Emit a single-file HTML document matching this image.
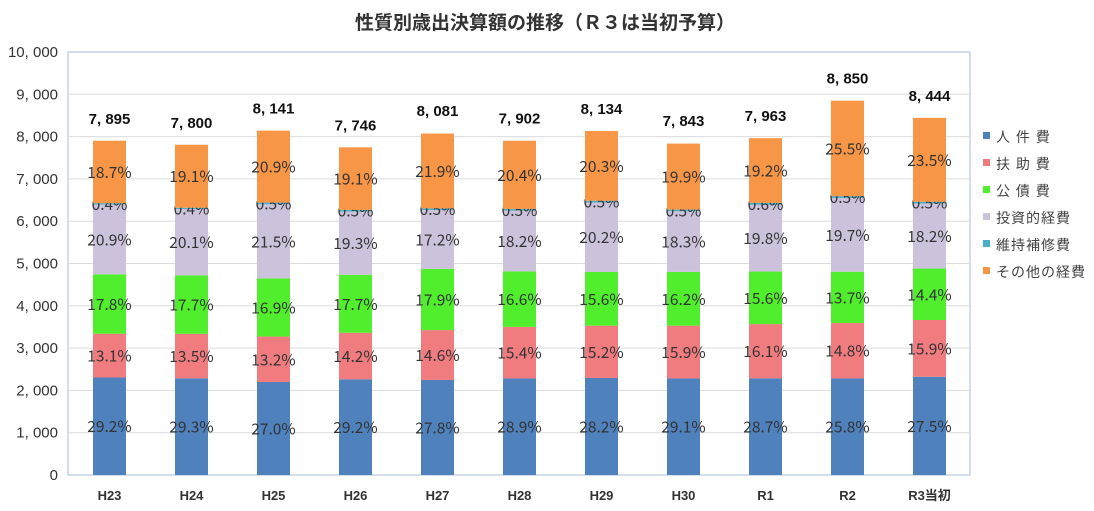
<!DOCTYPE html>
<html><head><meta charset="utf-8">
<style>
body{margin:0;background:#fff;}
svg{display:block;font-family:"Liberation Sans","Noto Sans CJK JP",sans-serif;}
</style></head><body>
<svg id="chart" width="1094" height="511"></svg>
<script>
const categories=["H23","H24","H25","H26","H27","H28","H29","H30","R1","R2","R3当初"];
const totals=[7895,7800,8141,7746,8081,7902,8134,7843,7963,8850,8444];
const personnel=[29.2,29.3,27.0,29.2,27.8,28.9,28.2,29.1,28.7,25.8,27.5];
const assistance=[13.1,13.5,13.2,14.2,14.6,15.4,15.2,15.9,16.1,14.8,15.9];
const debt=[17.8,17.7,16.9,17.7,17.9,16.6,15.6,16.2,15.6,13.7,14.4];
const investment=[20.9,20.1,21.5,19.3,17.2,18.2,20.2,18.3,19.8,19.7,18.2];
const maintenance=[0.4,0.4,0.5,0.5,0.5,0.5,0.5,0.5,0.6,0.5,0.5];
const other=[18.7,19.1,20.9,19.1,21.9,20.4,20.3,19.9,19.2,25.5,23.5];
const yTicks=[0,1000,2000,3000,4000,5000,6000,7000,8000,9000,10000];
const seriesNames=["人 件 費","扶 助 費","公 債 費","投資的経費","維持補修費","その他の経費"];
const seriesKeys=["personnel","assistance","debt","investment","maintenance","other"];
const series=[personnel,assistance,debt,investment,maintenance,other];
const colors=["#4f81bd","#f07c80","#50ee2c","#cdc2dc","#4bacc6","#f79646"];

const NS="http://www.w3.org/2000/svg";
const svg=document.getElementById("chart");
const L=68,R=970,T=52,B=475;
const y=v=>B-(v/10000)*(B-T);
const step=82,x0=109.5,bw=33;
const xc=i=>x0+i*step;
function mk(tag,attrs,parent){const e=document.createElementNS(NS,tag);for(const k in attrs)e.setAttribute(k,attrs[k]);(parent||svg).appendChild(e);return e;}
const fmt=n=>n.toLocaleString("en-US").replace(",",", ");

const title=mk("text",{x:545,y:29,"text-anchor":"middle","font-size":19,"font-weight":"bold",fill:"#333"});
title.textContent="性質別歳出決算額の推移（Ｒ３は当初予算）";



const frame=mk("rect",{x:L,y:T,width:R-L,height:B-T,fill:"none",stroke:"#c5d3e6","stroke-width":1.5});



yTicks.forEach(t=>{
  if(t>0&&t<10000){const g=mk("line",{x1:L,x2:R,y1:y(t),y2:y(t),stroke:"#dcdcdc","stroke-width":1});
  
  }
  const lb=mk("text",{x:58,y:y(t)+5,"text-anchor":"end","font-size":15,fill:"#333"});
  lb.textContent=fmt(t);
  
  
});

categories.forEach((c,i)=>{
  let cum=0;
  series.forEach((s,k)=>{
    const v=totals[i]*s[i]/100;
    const y1=y(cum+v),y0=y(cum);
    const r=mk("rect",{x:xc(i)-bw/2,y:y1,width:bw,height:y0-y1,fill:colors[k]});
    
    
    const t=mk("text",{x:xc(i),y:(y0+y1)/2+6,"text-anchor":"middle","font-size":15.5,fill:"#333","font-family":"Noto Sans CJK JP, sans-serif"});
    t.textContent=s[i].toFixed(1)+"%";
    
    
    cum+=v;
  });
  const tl=mk("text",{x:xc(i),y:y(totals[i])-17,"text-anchor":"middle","font-size":15,"font-weight":"bold",fill:"#111"});
  tl.textContent=fmt(totals[i]);
  
  
  const xl=mk("text",{x:xc(i),y:500,"text-anchor":"middle","font-size":13,"font-weight":"bold",fill:"#333"});
  xl.textContent=c;
  
  
});

seriesNames.forEach((n,k)=>{
  const yy=137+k*27;
  const m=mk("rect",{x:983,y:yy-5,width:7,height:7,fill:colors[k]});
  
  
  const t=mk("text",{x:996,y:yy+5,"font-size":14,fill:"#444","letter-spacing":"1"});
  t.textContent=n;
  
  
});
</script>
</body></html>
